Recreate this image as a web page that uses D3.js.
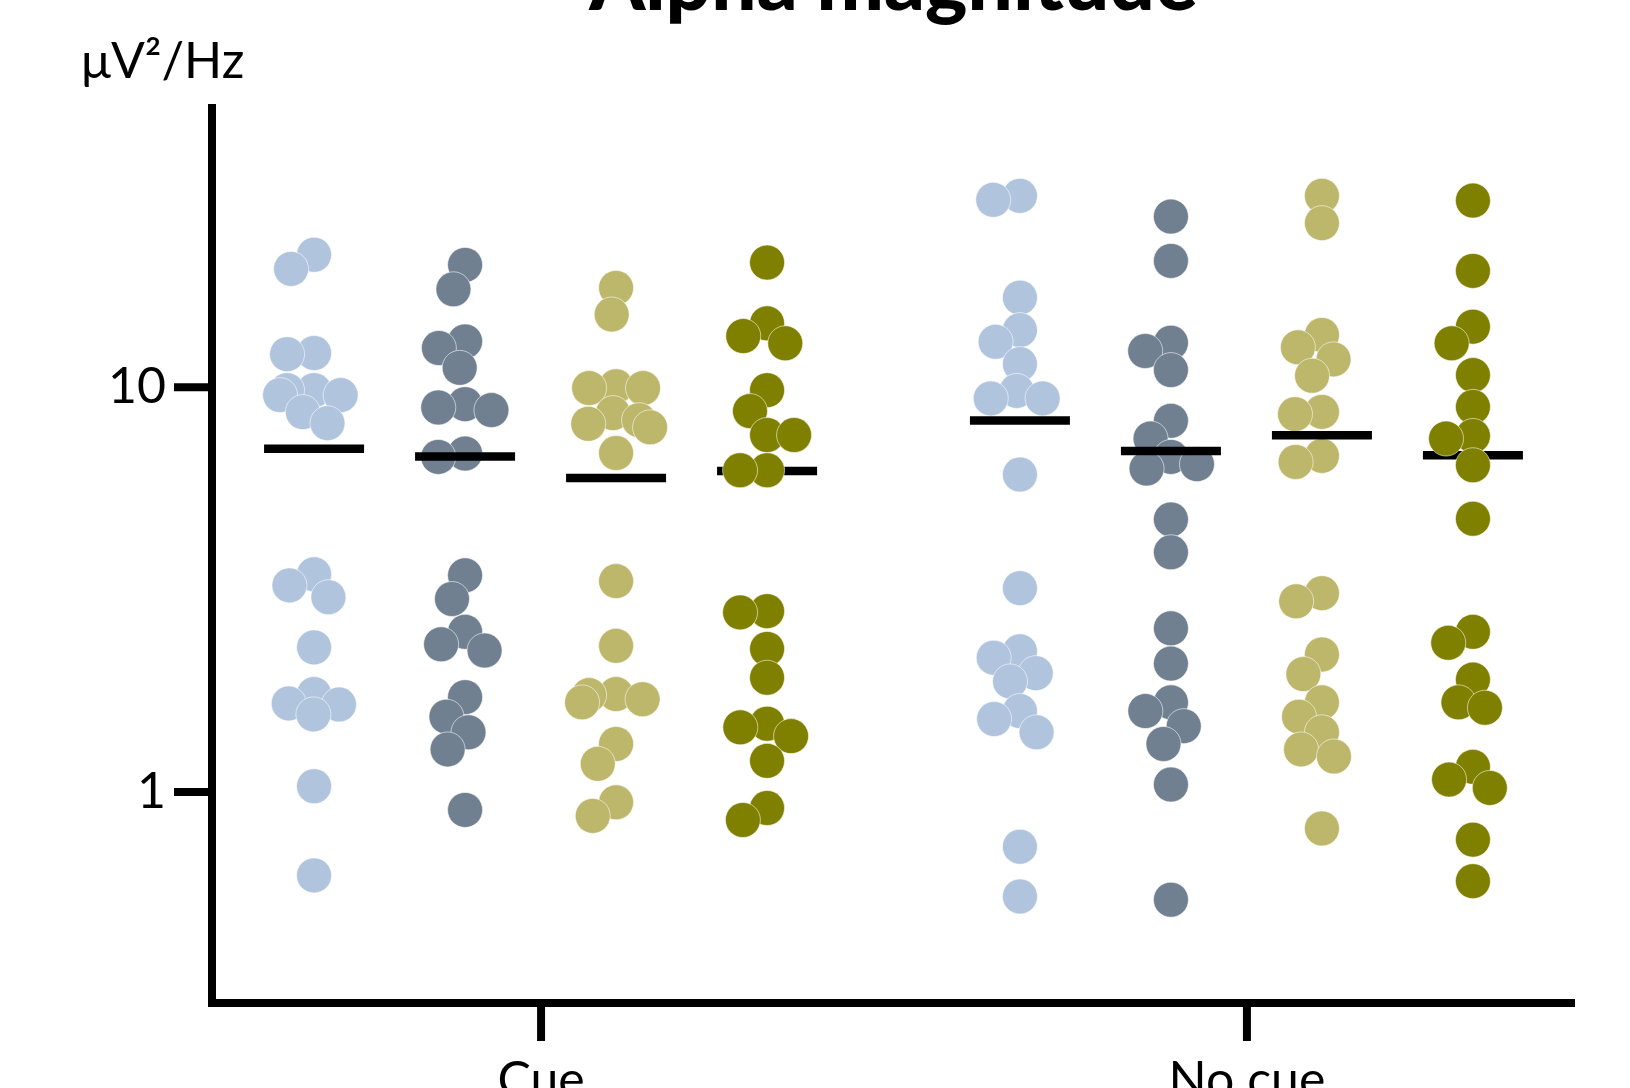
<!DOCTYPE html>
<html><head><meta charset="utf-8">
<script src="https://cdn.jsdelivr.net/npm/d3@7"></script>
<style>body{margin:0;background:#fff}svg{display:block}</style>
</head><body>
<svg id="chart" width="1630" height="1088"></svg>
<script>
// ---------- data ----------
const chartTitle = "Alpha magnitude";
const yUnit = "μV²/Hz";
const conditions = ["Cue", "No cue"];
const seriesNames = ["Series 1", "Series 2", "Series 3", "Series 4"];
const seriesColors = ["#B0C4DE", "#708090", "#BDB76B", "#808000"];
const yTickValues = [1, 10];
const yDomain = [0.3, 50];

const cueSeries1 = [21.2, 19.56, 12.04, 12.12, 9.54, 9.54, 9.81, 9.81, 8.13, 8.66, 3.44, 3.23, 3.02, 2.27, 1.74, 1.55, 1.64, 1.65, 1.03, 0.62];
const cueSeries2 = [20.01, 17.42, 12.47, 12.95, 11.14, 8.89, 9.06, 8.76, 6.71, 6.84, 3.42, 2.99, 2.48, 2.31, 2.23, 1.71, 1.53, 1.40, 1.27, 0.90];
const cueSeries3 = [17.56, 15.09, 9.93, 9.93, 10.03, 8.61, 8.10, 7.94, 8.27, 6.86, 3.31, 2.29, 1.69, 1.73, 1.66, 1.74, 1.31, 1.17, 0.94, 0.87];
const cueSeries4 = [20.28, 14.35, 13.35, 12.81, 9.81, 8.71, 7.60, 7.60, 6.22, 6.22, 2.77, 2.79, 2.25, 1.91, 1.37, 1.44, 1.47, 1.19, 0.91, 0.85];
const noCueSeries1 = [28.98, 29.65, 16.61, 13.81, 12.92, 11.38, 9.77, 9.36, 9.36, 6.07, 3.18, 2.22, 2.14, 1.96, 1.87, 1.58, 1.51, 1.40, 0.73, 0.55];
const noCueSeries2 = [26.35, 20.47, 12.85, 12.26, 11.00, 8.24, 7.45, 6.71, 6.28, 6.44, 4.70, 3.90, 2.53, 2.07, 1.58, 1.66, 1.45, 1.31, 1.04, 0.54];
const noCueSeries3 = [29.65, 25.38, 12.52, 13.43, 11.69, 10.65, 8.56, 8.67, 6.52, 6.75, 3.09, 2.95, 2.18, 1.95, 1.66, 1.53, 1.40, 1.22, 1.27, 0.81];
const noCueSeries4 = [28.86, 19.34, 12.81, 14.08, 10.69, 8.92, 7.56, 7.45, 6.40, 4.72, 2.33, 2.48, 1.89, 1.61, 1.66, 1.07, 1.15, 1.02, 0.76, 0.60];

const groups = [
  { condition: "Cue", series: [cueSeries1, cueSeries2, cueSeries3, cueSeries4] },
  { condition: "No cue", series: [noCueSeries1, noCueSeries2, noCueSeries3, noCueSeries4] }
];

// ---------- layout ----------
const plot = { left: 212, right: 1575, top: 104, bottom: 1003 };
const R = 17.5, MIN_DIST = 27, MAX_OFFSET = 34, MEAN_HALF = 50;
const FONT = "Lato, 'Open Sans', sans-serif";

const svg = d3.select("#chart");

const y = d3.scaleLog().domain(yDomain).range([plot.bottom, plot.top]);
const x = d3.scalePoint().domain(conditions).range([plot.left, plot.right]).padding(0.4655);
const xs = d3.scaleBand().domain(seriesNames).range([-302, 302]);

function swarm(values) {
  const pts = values.map((v, i) => ({ v, i, y: y(v) })).sort((a, b) => a.y - b.y);
  const placed = [];
  for (const p of pts) {
    const cands = [0];
    for (const q of placed) {
      const dy = Math.abs(q.y - p.y);
      if (dy < MIN_DIST) {
        const dx = Math.sqrt(MIN_DIST * MIN_DIST - dy * dy);
        cands.push(q.dx - dx, q.dx + dx);
      }
    }
    const cost = c => placed.reduce((s, q) => {
      const d = Math.hypot(q.dx - c, q.y - p.y);
      return s + Math.max(0, MIN_DIST - d);
    }, 0);
    const inRange = cands.filter(c => Math.abs(c) <= MAX_OFFSET + 1e-6);
    const ok = inRange.filter(c => cost(c) < 1e-6);
    if (ok.length) {
      ok.sort((a, b) => Math.abs(a) - Math.abs(b) || a - b);
      p.dx = ok[0];
    } else {
      const pool = inRange.concat([-MAX_OFFSET, MAX_OFFSET]);
      pool.sort((a, b) => cost(a) - cost(b) || Math.abs(a) - Math.abs(b));
      p.dx = pool[0];
    }
    placed.push(p);
  }
  return pts;
}

// build marks
const dotData = [], meanData = [];
groups.forEach(g => {
  g.series.forEach((vals, si) => {
    const cx = x(g.condition) + xs(seriesNames[si]) + xs.bandwidth() / 2;
    swarm(vals).forEach(p => dotData.push({ cx: cx + p.dx, cy: p.y, si }));
    meanData.push({ cx, m: d3.mean(vals), si });
  });
});

const gDotsUnder = svg.append("g");
const gMeans = svg.append("g");
const gDotsOver = svg.append("g");

function drawDots(g, data) {
  g.selectAll("circle").data(data).join("circle")
    .attr("cx", d => d.cx).attr("cy", d => d.cy).attr("r", R)
    .attr("fill", d => seriesColors[d.si])
    .attr("stroke", "#fff").attr("stroke-opacity", 0.7).attr("stroke-width", 0.8);
}
drawDots(gDotsUnder, dotData.filter(d => d.si < 3));
gMeans.selectAll("line").data(meanData).join("line")
  .attr("x1", d => d.cx - MEAN_HALF).attr("x2", d => d.cx + MEAN_HALF)
  .attr("y1", d => y(d.m)).attr("y2", d => y(d.m))
  .attr("stroke", "#000").attr("stroke-width", 8.5);
drawDots(gDotsOver, dotData.filter(d => d.si === 3));

// axes
const yAxis = svg.append("g").attr("transform", `translate(${plot.left},0)`)
  .call(d3.axisLeft(y).tickValues(yTickValues).tickFormat(d3.format("d")).tickSize(38).tickSizeOuter(0).tickPadding(8));
const xAxis = svg.append("g").attr("transform", `translate(0,${plot.bottom})`)
  .call(d3.axisBottom(x).tickSize(38).tickSizeOuter(0).tickPadding(20));

[yAxis, xAxis].forEach(a => {
  a.select(".domain").attr("stroke", "#000").attr("stroke-width", 8);
  a.selectAll(".tick line").attr("stroke", "#000").attr("stroke-width", 8);
  a.selectAll("text").attr("fill", "#000").style("font-family", FONT).style("font-size", "50px");
});
yAxis.select(".domain").attr("d", `M0,${plot.top}V${plot.bottom + 4}`);
xAxis.select(".domain").attr("d", `M${plot.left - 4},0H${plot.right}`);

svg.append("text").attr("x", 81).attr("y", 78)
  .style("font-family", FONT).style("font-size", "50px").attr("fill", "#000").text(yUnit);

svg.append("text").attr("x", (plot.left + plot.right) / 2).attr("y", 10)
  .attr("text-anchor", "middle").style("font-family", FONT).style("font-size", "80px")
  .style("font-weight", 900).attr("fill", "#000").text(chartTitle);
</script>
</body></html>
